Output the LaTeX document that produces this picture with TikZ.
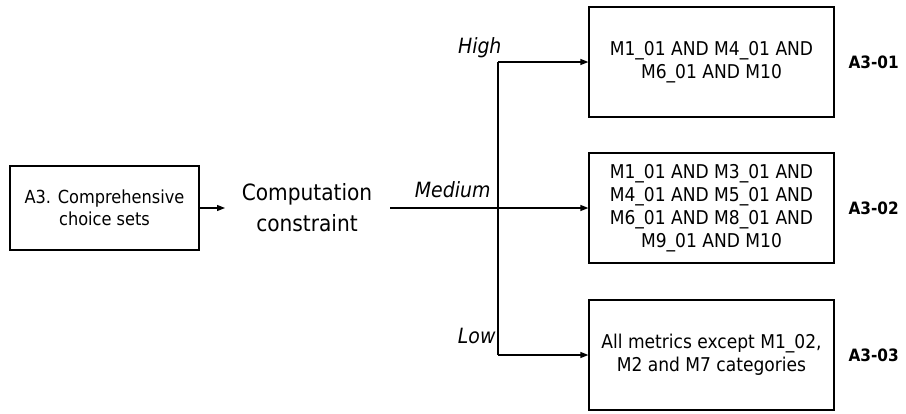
\documentclass[tikz,border=0pt]{standalone}
\usepackage{fontspec}
\setmainfont{DejaVu Sans Condensed}
\usetikzlibrary{arrows.meta}
\begin{document}
\begin{tikzpicture}[x=1pt,y=-1pt,
  box/.style={draw,line width=1.3pt,minimum width=245pt,minimum height=110pt,align=center,inner sep=0pt,font=\fontsize{19}{23}\selectfont},
  lab/.style={font=\fontsize{17}{19}\selectfont\bfseries,anchor=west},
  lvl/.style={font=\fontsize{21}{22}\selectfont\itshape},
  conn/.style={line width=1.3pt},
  arr/.style={conn,-{Triangle[length=8pt,width=6pt]}}]
\useasboundingbox (0,0) rectangle (906,413);
\node[draw,line width=1.3pt,minimum width=189pt,minimum height=84pt,align=center,inner sep=0pt,font=\fontsize{18}{22}\selectfont] (a3) at (104.5,208) {A3. Comprehensive\\choice sets};
\node[align=center,inner sep=0pt,font=\fontsize{22.4}{31}\selectfont] (cc) at (307,208) {Computation\\constraint};
\node[box] (b1) at (711.5,62) {M1\_01 AND M4\_01 AND\\M6\_01 AND M10};
\node[box] (b2) at (711.5,208) {M1\_01 AND M3\_01 AND\\M4\_01 AND M5\_01 AND\\M6\_01 AND M8\_01 AND\\M9\_01 AND M10};
\node[box] (b3) at (711.5,355) {All metrics except M1\_02,\\M2 and M7 categories};
\node[lab] (l1) at (845,62) {A3-01};
\node[lab] (l2) at (845,208) {A3-02};
\node[lab] (l3) at (845,355) {A3-03};
\coordinate (s) at (390,208);
\coordinate (top) at (498,62);
\coordinate (bot) at (498,355);
\draw[arr] (a3.east) -- (225,208);
\draw[arr] (s) -- (b2.west);
\draw[conn] (top) -- (bot);
\draw[arr] (top) -- (b1.west);
\draw[arr] (bot) -- (b3.west);
\node[lvl,anchor=base east] (hi) at (505,53) {High};
\node[lvl,anchor=base east] (me) at (494,197) {Medium};
\node[lvl,anchor=base east] (lo) at (499,343) {Low};
\end{tikzpicture}
\end{document}
